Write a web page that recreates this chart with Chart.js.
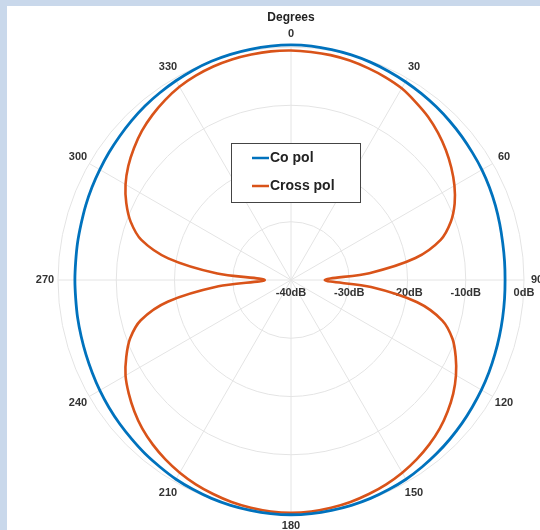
<!DOCTYPE html>
<html>
<head>
<meta charset="utf-8">
<script src="https://cdn.jsdelivr.net/npm/chart.js@4/dist/chart.umd.min.js"></script>
<style>
  body { margin: 0; background: #c9d8eb; }
  #panel { position: absolute; left: 7px; top: 6px; width: 533px; height: 524px; background: #ffffff; }
</style>
</head>
<body>
<div id="panel"><canvas id="canvasPolar" width="533" height="524"></canvas></div>
<script>
// Ángulos de medición (grados, sentido horario desde arriba)
const angulos = [
  0, 5, 10, 15, 20, 25, 30, 35, 40, 45, 50, 55, 60, 65, 70, 75, 80, 85,
  90, 95, 100, 105, 110, 115, 120, 125, 130, 135, 140, 145, 150, 155, 160, 165, 170, 175,
  180, 185, 190, 195, 200, 205, 210, 215, 220, 225, 230, 235, 240, 245, 250, 255, 260, 265,
  270, 275, 280, 285, 290, 295, 300, 305, 310, 315, 320, 325, 330, 335, 340, 345, 350, 355
];

// Ganancia copolar (dB)
const coPol = [
  0.35, 0.3, 0.15, 0, -0.2, -0.45, -0.7, -0.95, -1.2, -1.45, -1.7, -1.95, -2.15, -2.4, -2.65, -2.9, -3.1, -3.2,
  -3.25, -3.2, -3.1, -2.95, -2.75, -2.5, -2.25, -2.0, -1.7, -1.4, -1.1, -0.8, -0.5, -0.3, -0.1, 0.05, 0.15, 0.25,
  0.3, 0.25, 0.15, 0.05, -0.1, -0.3, -0.5, -0.8, -1.05, -1.35, -1.6, -1.85, -2.1, -2.35, -2.55, -2.7, -2.8, -2.9,
  -2.9, -2.9, -2.8, -2.7, -2.5, -2.3, -2.1, -1.85, -1.6, -1.3, -1.0, -0.75, -0.5, -0.25, -0.05, 0.1, 0.2, 0.3
];

// Ganancia de polarización cruzada (dB)
const crossPol = [
  -0.6, -0.7, -0.8, -1.0, -1.3, -1.6, -2.0, -2.7, -3.4, -4.3, -5.3, -6.4, -7.6, -9.0, -10.8, -13.4, -18.3, -26.5,
  -34.2, -26.2, -18.0, -13.1, -10.5, -8.8, -7.3, -6.0, -4.9, -3.9, -3.1, -2.4, -1.8, -1.3, -0.9, -0.55, -0.3, -0.12,
  -0.05, -0.12, -0.3, -0.55, -0.9, -1.3, -1.8, -2.4, -3.1, -3.9, -4.9, -6.0, -7.2, -8.8, -10.6, -13.3, -18.5, -27.5,
  -35.5, -27.3, -18.6, -13.4, -10.7, -8.8, -7.2, -5.9, -4.8, -3.8, -3.0, -2.3, -1.7, -1.3, -1.0, -0.8, -0.7, -0.6
];

// Etiquetas de los ejes
const etiquetasAngulo = ['0', '30', '60', '90', '120', '150', '180', '210', '240', '270', '300', '330'];
const valoresRadio = [-40, -30, -20, -10, 0];
const etiquetasRadio = ['-40dB', '-30dB', '-20dB', '-10dB', '0dB'];

const fuente = "'Liberation Sans', Arial, sans-serif";

/**
 * Dibuja título, etiquetas de ángulo y de radio sobre la escala radial.
 */
const pluginEtiquetas = {
  id: 'etiquetasPolares',
  beforeDatasetsDraw(chart) {
    const escala = chart.scales.r;
    const ctx = chart.ctx;
    ctx.save();
    ctx.textAlign = 'center';
    ctx.textBaseline = 'middle';

    // Título
    ctx.fillStyle = '#222';
    ctx.font = 'bold 12px ' + fuente;
    ctx.fillText('Degrees', escala.xCenter, 12);

    // Ángulos cada 30 grados
    ctx.fillStyle = '#333';
    ctx.font = 'bold 11px ' + fuente;
    etiquetasAngulo.forEach(txt => {
      const i = angulos.indexOf(parseInt(txt));
      const p = escala.getPointPosition(i, escala.drawingArea + 13);
      ctx.fillText(txt, p.x, p.y);
    });

    // Niveles en dB a lo largo de 90 grados
    const i90 = angulos.indexOf(90);
    valoresRadio.forEach((v, k) => {
      const p = escala.getPointPositionForValue(i90, v);
      ctx.fillText(etiquetasRadio[k], p.x, p.y + 13);
    });
    ctx.restore();
  },
  afterDraw(chart) {
    // Leyenda con recuadro
    const escala = chart.scales.r;
    const ctx = chart.ctx;
    const x0 = escala.xCenter - 60;
    const y0 = escala.yCenter - 137;
    ctx.save();
    ctx.fillStyle = '#fff';
    ctx.fillRect(x0, y0, 129, 59);
    ctx.strokeStyle = '#444';
    ctx.lineWidth = 1;
    ctx.strokeRect(x0 + 0.5, y0 + 0.5, 129, 59);
    ctx.font = 'bold 14px ' + fuente;
    ctx.textBaseline = 'middle';
    ctx.textAlign = 'left';
    chart.data.datasets.forEach((ds, k) => {
      const y = y0 + 15 + k * 28;
      ctx.strokeStyle = ds.borderColor;
      ctx.lineWidth = 2.5;
      ctx.beginPath();
      ctx.moveTo(x0 + 21, y);
      ctx.lineTo(x0 + 38, y);
      ctx.stroke();
      ctx.fillStyle = '#222';
      ctx.fillText(ds.label, x0 + 39, y);
    });
    ctx.restore();
  }
};

const graficoPolar = new Chart(document.getElementById('canvasPolar'), {
  type: 'radar',
  data: {
    labels: angulos.map(String),
    datasets: [
      { label: 'Co pol', data: coPol, borderColor: '#0072BD', borderWidth: 2.8, fill: false, pointRadius: 0, tension: 0.3 },
      { label: 'Cross pol', data: crossPol, borderColor: '#D95319', borderWidth: 2.6, fill: false, pointRadius: 0, tension: 0.3 }
    ]
  },
  options: {
    responsive: false,
    animation: false,
    layout: { padding: { left: 51, top: 41, right: 16, bottom: 17 } },
    plugins: {
      legend: { display: false },
      tooltip: { enabled: false }
    },
    scales: {
      r: {
        min: -40,
        max: 0,
        ticks: { display: false, stepSize: 10 },
        pointLabels: { display: false },
        grid: { circular: true, color: '#e4e4e4', lineWidth: 1 },
        angleLines: {
          display: true,
          lineWidth: 1,
          color: c => (c.index % 6 === 0 ? '#e4e4e4' : 'rgba(0,0,0,0)')
        }
      }
    }
  },
  plugins: [pluginEtiquetas]
});
</script>
</body>
</html>
